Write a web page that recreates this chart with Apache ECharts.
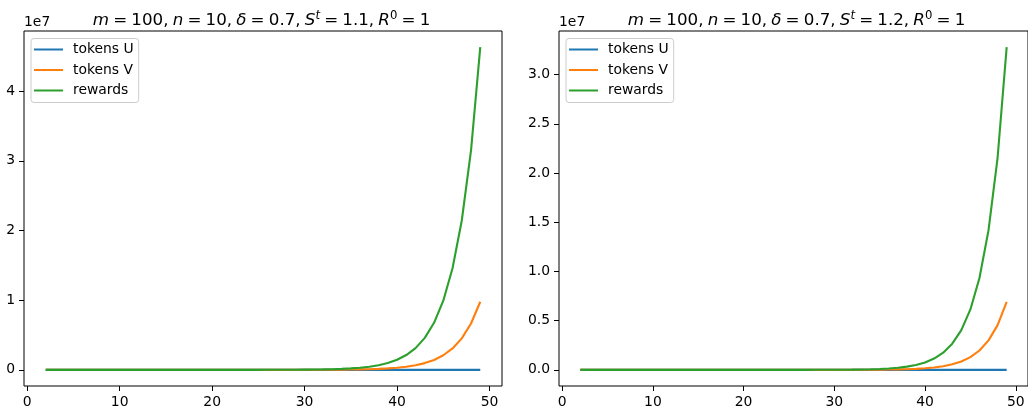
<!DOCTYPE html>
<html>
<head>
<meta charset="utf-8">
<script src="https://cdn.jsdelivr.net/npm/echarts@6/dist/echarts.min.js"></script>
<style>
html,body{margin:0;padding:0;background:#fff;}
#chart{width:1028px;height:413px;}
</style>
</head>
<body>
<div id="chart"></div>
<script>
// x values (steps)
const steps = [2,3,4,5,6,7,8,9,10,11,12,13,14,15,16,17,18,19,20,21,22,23,24,25,
  26,27,28,29,30,31,32,33,34,35,36,37,38,39,40,41,42,43,44,45,46,47,48,49];

// Left panel: S^t = 1.1
const tokensU_a = [100,100,100,100,100,100,100,100,100,100,100,100,100,100,100,100,100,100,100,100,100,100,100,100,
  100,100,100,100,100,100,100,100,100,100,100,100,100,100,100,100,100,100,100,100,100,100,100,100];
const tokensV_a = [0.13,0.2,0.29,0.43,0.63,0.92,1.35,2.0,2.9,4.3,6.3,9.2,13.6,20,29,43,63,93,137,202,296,436,641,942,
  1384,2035,2992,4398,6465,9500,13970,20540,30200,44400,65300,95900,141000,207300,304800,448000,659000,968000,1423000,2092000,3076000,4520000,6650000,9770000];
const rewards_a = [1.0,1.0,1.4,2.0,3.0,4.4,6.4,9.4,13.8,20.3,29.9,44,64.6,95,139,205,301,443,652,958,1408,2070,3040,4470,
  6570,9660,14200,20880,30700,45100,66300,97400,143200,210500,309400,455000,669000,983000,1445000,2124000,3122000,4590000,6750000,9920000,14580000,21430000,31500000,46300000];

// Right panel: S^t = 1.2
const tokensU_b = [100,100,100,100,100,100,100,100,100,100,100,100,100,100,100,100,100,100,100,100,100,100,100,100,
  100,100,100,100,100,100,100,100,100,100,100,100,100,100,100,100,100,100,100,100,100,100,100,100];
const tokensV_b = [0.1,0.1,0.1,0.1,0.2,0.3,0.4,0.6,0.6,0.9,1.3,2.0,3.0,4.5,6.9,10.5,16,24,37,56,85,130,197,299,
  455,691,1050,1596,2425,3690,5605,8520,12950,19700,29900,45500,69100,105100,159700,242800,369000,561000,853000,1296000,1970000,2995000,4550000,6920000];
const rewards_b = [1.0,1.0,1.0,1.0,1.0,1.0,1.2,1.8,2.7,4.0,6.1,9.3,14.2,21.5,32.7,49.7,75.6,115,175,265,403,613,932,1420,
  2155,3280,4980,7570,11500,17500,26600,40400,61400,93300,141800,215600,327700,498000,757000,1151000,1749000,2660000,4040000,6140000,9340000,14200000,21580000,32800000];

// Tick labels
const xTicks = [0,10,20,30,40,50];
const yTicks_a = [0,1e7,2e7,3e7,4e7];
const yTicks_b = [0,5e6,1e7,1.5e7,2e7,2.5e7,3e7];
const seriesNames = ['tokens U','tokens V','rewards'];
const titles = ['1.1','1.2'];

const FONT = 'DejaVu Sans';
const colors = ['#1f77b4','#ff7f0e','#2ca02c'];
const pairs = arr => steps.map((s,i)=>[s,arr[i]]);

function yRange(maxv){ return {min: -0.05*maxv, max: 1.05*maxv}; }
const ra = yRange(Math.max(...rewards_a));
const rb = yRange(Math.max(...rewards_b));

const gridL = [24, 559];
function xAxis(gi){
  return {
    type:'value', gridIndex:gi, min:-0.35, max:51.35, position:'bottom',
    splitLine:{show:false},
    axisLine:{show:false, onZero:false},
    axisTick:{show:true, inside:false, length:5, lineStyle:{color:'#000', width:1}, customValues:xTicks},
    axisLabel:{show:true, customValues:xTicks, margin:9, color:'#000', fontFamily:FONT, fontSize:13.9}
  };
}
function yAxis(gi, r, ticks, fmt){
  return {
    type:'value', gridIndex:gi, min:r.min, max:r.max, position:'left',
    splitLine:{show:false},
    axisLine:{show:false, onZero:false},
    axisTick:{show:true, inside:false, length:5, lineStyle:{color:'#000', width:1}, customValues:ticks},
    axisLabel:{show:true, customValues:ticks, margin:9, color:'#000', fontFamily:FONT, fontSize:13.9, formatter:fmt}
  };
}
function legend(left){
  return {
    data: seriesNames, orient:'vertical', left:left, top:38.5,
    icon:'rect', itemWidth:29, itemHeight:2, itemGap:6.5,
    backgroundColor:'#fff', borderColor:'#cccccc', borderWidth:1, borderRadius:3,
    padding:[4,5,5,3],
    selectedMode:false,
    textStyle:{color:'#000', fontFamily:FONT, fontSize:13.9, lineHeight:14, padding:[0,0,0,5]}
  };
}
function title(center, s){
  const base = {fontFamily:FONT, fontSize:16.7, color:'#000'};
  const sp = '\u2005';
  return {
    text: '{i|m}'+sp+'='+sp+'100,'+sp+'{i|n}'+sp+'='+sp+'10,'+sp+'{i|δ}'+sp+'='+sp+'0.7,'+sp+
          '{i|S}{si|t}'+sp+'='+sp+s+','+sp+'{i|R}{s|0}'+sp+'='+sp+'1',
    left: center, top: 5, textAlign:'center',
    textStyle: Object.assign({}, base, {fontWeight:'normal', rich:{
      i: Object.assign({}, base, {fontStyle:'italic'}),
      s: {fontFamily:FONT, fontSize:11.7, color:'#000', padding:[0,0,10,0]},
      si: {fontFamily:FONT, fontSize:11.7, color:'#000', fontStyle:'italic', padding:[0,0,10,0]}
    }})
  };
}
function lineSeries(name, data, xi, color){
  return {name, type:'line', xAxisIndex:xi, yAxisIndex:xi, data, showSymbol:false, symbol:'none',
    lineStyle:{color, width:2.1}, itemStyle:{color}, animation:false};
}

const chart = echarts.init(document.getElementById('chart'));
chart.setOption({
  backgroundColor:'#fff',
  animation:false,
  title:[title(256.5, titles[0]), title(791.5, titles[1])],
  legend:[legend(31), legend(566)],
  grid:[
    {left:gridL[0], top:31, width:478, height:355, show:true, borderColor:'#000', borderWidth:1, backgroundColor:'transparent'},
    {left:gridL[1], top:31, width:478, height:355, show:true, borderColor:'#000', borderWidth:1, backgroundColor:'transparent'}
  ],
  xAxis:[xAxis(0), xAxis(1)],
  yAxis:[
    yAxis(0, ra, yTicks_a, v => String(Math.round(v/1e7))),
    yAxis(1, rb, yTicks_b, v => (v/1e7).toFixed(1))
  ],
  graphic:[
    {type:'text', left:24, top:15, style:{text:'1e7', font:'13.9px "DejaVu Sans"', fill:'#000'}},
    {type:'text', left:559, top:15, style:{text:'1e7', font:'13.9px "DejaVu Sans"', fill:'#000'}}
  ],
  series:[
    lineSeries(seriesNames[0], pairs(tokensU_a), 0, colors[0]),
    lineSeries(seriesNames[1], pairs(tokensV_a), 0, colors[1]),
    lineSeries(seriesNames[2], pairs(rewards_a), 0, colors[2]),
    lineSeries(seriesNames[0], pairs(tokensU_b), 1, colors[0]),
    lineSeries(seriesNames[1], pairs(tokensV_b), 1, colors[1]),
    lineSeries(seriesNames[2], pairs(rewards_b), 1, colors[2])
  ]
});
</script>
</body>
</html>
